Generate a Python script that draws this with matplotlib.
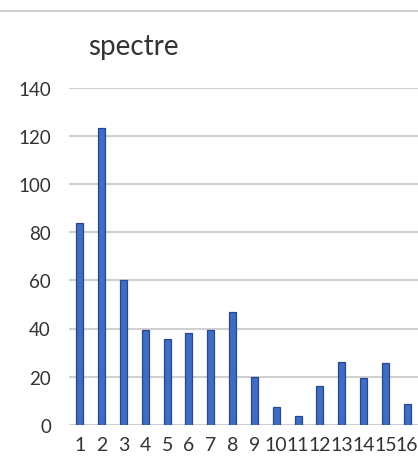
import matplotlib
matplotlib.use('Agg')
from matplotlib import pyplot as plt
from matplotlib.lines import Line2D

categories = ['1', '2', '3', '4', '5', '6', '7', '8', '9', '10', '11', '12', '13', '14', '15', '16']
values = [84, 123.5, 60, 39.5, 35.5, 38, 39.5, 47, 20, 7.5, 3.5, 16, 26, 19.5, 25.5, 8.5]
yticks = [0, 20, 40, 60, 80, 100, 120, 140]
title = 'spectre'

plt.rcParams['font.family'] = ['Lato', 'DejaVu Sans']

fig = plt.figure(figsize=(4.18, 4.6), dpi=100, facecolor='w')
ax = fig.add_axes([69/418, (460-425.7)/460, 1 - 69/418, (425.7-89)/460])

x = list(range(len(categories)))
ax.bar(x, values, width=0.32, color='#3F6CC4', edgecolor='#28488C', linewidth=0.9, zorder=3)

ax.set_xlim(-0.5, 15.5)
ax.set_ylim(0, 140)
ax.set_yticks(yticks)
ax.set_xticks(x)
ax.set_xticklabels(categories)
ax.yaxis.grid(True, color='#d0d0d0', linewidth=1.5, zorder=0)
ax.set_axisbelow(True)
for s in ax.spines.values():
    s.set_visible(False)
ax.tick_params(axis='y', length=0, pad=13, labelsize=13.5, labelcolor='#333333')
ax.tick_params(axis='x', length=0, pad=8, labelsize=14, labelcolor='#333333')

fig.text(88/418, (460-55)/460, title, fontsize=20, color='#333333', va='baseline', ha='left')
fig.add_artist(Line2D([0, 1], [1 - 11.5/460, 1 - 11.5/460], transform=fig.transFigure, color='#d0d0d0', linewidth=1.5))

plt.savefig('out.png', dpi=100)
